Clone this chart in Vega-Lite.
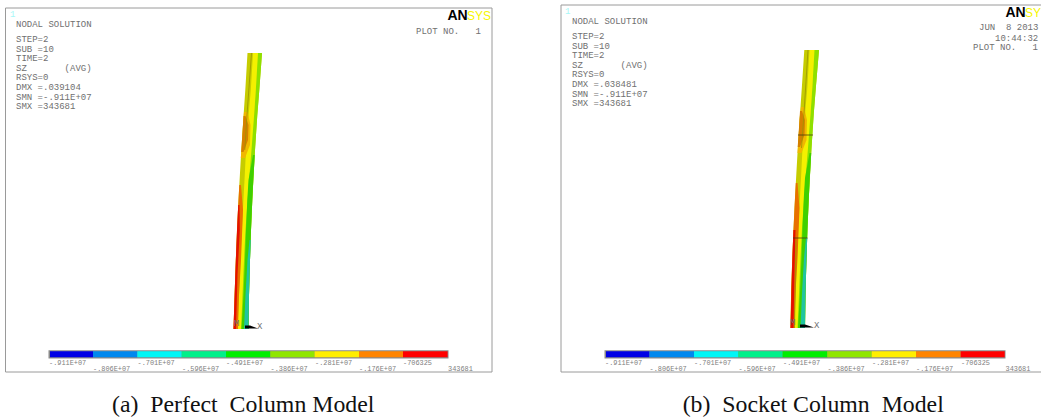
{"$schema":"https://vega.github.io/schema/vega-lite/v6.json","width":1041,"height":418,"autosize":"none","padding":0,"background":"white","config":{"view":{"stroke":null}},
"datasets":{
"frames":[{"p":"a","x0":5.5,"x1":492,"y0":8,"y1":372},{"p":"b","x0":561,"x1":1045,"y0":5,"y1":372}],
"barbacks":[{"p":"a","x0":48.5,"x1":448.5,"y0":350.3,"y1":358.5},{"p":"b","x0":604.5,"x1":1005.5,"y0":350.3,"y1":358.5}],
"bands":[
{"b":"1","x0":50,"x1":93,"y0":351.3,"y1":357.3},{"b":"2","x0":93,"x1":137.3,"y0":351.3,"y1":357.3},{"b":"3","x0":137.3,"x1":181.7,"y0":351.3,"y1":357.3},{"b":"4","x0":181.7,"x1":226,"y0":351.3,"y1":357.3},{"b":"5","x0":226,"x1":270.3,"y0":351.3,"y1":357.3},{"b":"6","x0":270.3,"x1":314.6,"y0":351.3,"y1":357.3},{"b":"7","x0":314.6,"x1":359,"y0":351.3,"y1":357.3},{"b":"8","x0":359,"x1":403,"y0":351.3,"y1":357.3},{"b":"9","x0":403,"x1":447.6,"y0":351.3,"y1":357.3},
{"b":"1","x0":606,"x1":649.5,"y0":351.3,"y1":357.3},{"b":"2","x0":649.5,"x1":694,"y0":351.3,"y1":357.3},{"b":"3","x0":694,"x1":738.3,"y0":351.3,"y1":357.3},{"b":"4","x0":738.3,"x1":782.6,"y0":351.3,"y1":357.3},{"b":"5","x0":782.6,"x1":827.3,"y0":351.3,"y1":357.3},{"b":"6","x0":827.3,"x1":871.7,"y0":351.3,"y1":357.3},{"b":"7","x0":871.7,"x1":916,"y0":351.3,"y1":357.3},{"b":"8","x0":916,"x1":960.7,"y0":351.3,"y1":357.3},{"b":"9","x0":960.7,"x1":1004.7,"y0":351.3,"y1":357.3}],
"patches":[
{"g":"a01","z":"olive","y":53,"l":247.5,"r":262},{"g":"a01","z":"olive","y":90,"l":245.3,"r":259.3},{"g":"a01","z":"olive","y":115,"l":243.6,"r":257.3},{"g":"a01","z":"olive","y":150,"l":241.3,"r":255},{"g":"a01","z":"olive","y":180,"l":239.6,"r":253.3},{"g":"a01","z":"olive","y":200,"l":238.5,"r":252.3},{"g":"a01","z":"olive","y":230,"l":237,"r":251},{"g":"a01","z":"olive","y":260,"l":235.8,"r":250},{"g":"a01","z":"olive","y":295,"l":234.6,"r":249},{"g":"a01","z":"olive","y":329,"l":233.5,"r":248.5},
{"g":"a02","z":"lime","y":53,"l":257.5,"r":262},{"g":"a02","z":"lime","y":90,"l":255.8,"r":259.3},{"g":"a02","z":"lime","y":115,"l":254.1,"r":257.3},{"g":"a02","z":"lime","y":150,"l":250,"r":255},{"g":"a02","z":"lime","y":200,"l":246,"r":252.3},{"g":"a02","z":"lime","y":230,"l":245,"r":251},{"g":"a02","z":"lime","y":260,"l":243.5,"r":250},{"g":"a02","z":"lime","y":295,"l":242,"r":249},{"g":"a02","z":"lime","y":329,"l":240.5,"r":248.5},
{"g":"a03","z":"yellow","y":53,"l":253,"r":258},{"g":"a03","z":"yellow","y":90,"l":250.8,"r":255.8},{"g":"a03","z":"yellow","y":115,"l":248.6,"r":254.1},{"g":"a03","z":"yellow","y":150,"l":246,"r":251.5},{"g":"a03","z":"yellow","y":180,"l":244.5,"r":249},{"g":"a03","z":"yellow","y":230,"l":241.8,"r":245.5},{"g":"a03","z":"yellow","y":260,"l":240.5,"r":244},{"g":"a03","z":"yellow","y":295,"l":239,"r":242.5},{"g":"a03","z":"yellow","y":329,"l":237.5,"r":241},
{"g":"a04","z":"amber","y":112,"l":244,"r":247.5},{"g":"a04","z":"amber","y":125,"l":243,"r":250.5},{"g":"a04","z":"amber","y":145,"l":242,"r":250},{"g":"a04","z":"amber","y":158,"l":240.8,"r":245},
{"g":"a05","z":"orange","y":116,"l":243.5,"r":245.5},{"g":"a05","z":"orange","y":125,"l":243,"r":248.5},{"g":"a05","z":"orange","y":140,"l":242,"r":248},{"g":"a05","z":"orange","y":152,"l":241.2,"r":243.5},
{"g":"a06","z":"green","y":155,"l":253,"r":254.7},{"g":"a06","z":"green","y":180,"l":248.5,"r":253.3},{"g":"a06","z":"green","y":200,"l":247.3,"r":252.3},{"g":"a06","z":"green","y":230,"l":246,"r":251},{"g":"a06","z":"green","y":260,"l":245,"r":250},{"g":"a06","z":"green","y":295,"l":243.5,"r":249},{"g":"a06","z":"green","y":329,"l":241.5,"r":248.5},
{"g":"a07","z":"teal","y":240,"l":249.5,"r":250.7},{"g":"a07","z":"teal","y":260,"l":247.5,"r":250},{"g":"a07","z":"teal","y":295,"l":245.5,"r":249},{"g":"a07","z":"teal","y":329,"l":244,"r":248.5},
{"g":"a08","z":"deep","y":185,"l":239.3,"r":241},{"g":"a08","z":"deep","y":210,"l":238,"r":243},{"g":"a08","z":"deep","y":260,"l":235.8,"r":241},{"g":"a08","z":"deep","y":295,"l":234.6,"r":239},{"g":"a08","z":"deep","y":329,"l":233.5,"r":238},
{"g":"a09","z":"red","y":205,"l":238.2,"r":239.5},{"g":"a09","z":"red","y":230,"l":237,"r":239.8},{"g":"a09","z":"red","y":275,"l":235.3,"r":237.5},{"g":"a09","z":"red","y":329,"l":233.5,"r":236},
{"g":"a10","z":"black","y":325.5,"l":245,"r":250},{"g":"a10","z":"black","y":328.5,"l":245,"r":258},
{"g":"b01","z":"olive","y":50,"l":804.3,"r":819},{"g":"b01","z":"olive","y":88,"l":801.8,"r":815.8},{"g":"b01","z":"olive","y":113,"l":800.1,"r":813.8},{"g":"b01","z":"olive","y":148,"l":797.8,"r":811.5},{"g":"b01","z":"olive","y":178,"l":796.1,"r":809.8},{"g":"b01","z":"olive","y":198,"l":795,"r":808.8},{"g":"b01","z":"olive","y":228,"l":793.5,"r":807.5},{"g":"b01","z":"olive","y":258,"l":792.3,"r":806.5},{"g":"b01","z":"olive","y":293,"l":791.1,"r":805.5},{"g":"b01","z":"olive","y":328,"l":790.5,"r":805},
{"g":"b02","z":"lime","y":50,"l":814,"r":819},{"g":"b02","z":"lime","y":88,"l":812.3,"r":815.8},{"g":"b02","z":"lime","y":113,"l":810.6,"r":813.8},{"g":"b02","z":"lime","y":148,"l":806.5,"r":811.5},{"g":"b02","z":"lime","y":198,"l":802.5,"r":808.8},{"g":"b02","z":"lime","y":228,"l":801.5,"r":807.5},{"g":"b02","z":"lime","y":258,"l":800,"r":806.5},{"g":"b02","z":"lime","y":293,"l":798.5,"r":805.5},{"g":"b02","z":"lime","y":328,"l":797,"r":805},
{"g":"b03","z":"yellow","y":50,"l":809.5,"r":814.5},{"g":"b03","z":"yellow","y":88,"l":807.3,"r":812.3},{"g":"b03","z":"yellow","y":113,"l":805.1,"r":810.6},{"g":"b03","z":"yellow","y":148,"l":802.5,"r":808},{"g":"b03","z":"yellow","y":178,"l":801,"r":805.5},{"g":"b03","z":"yellow","y":228,"l":798.3,"r":802},{"g":"b03","z":"yellow","y":258,"l":797,"r":800.5},{"g":"b03","z":"yellow","y":293,"l":795.5,"r":799},{"g":"b03","z":"yellow","y":328,"l":794,"r":797.5},
{"g":"b04","z":"amber","y":107,"l":801,"r":804},{"g":"b04","z":"amber","y":120,"l":799.5,"r":807},{"g":"b04","z":"amber","y":140,"l":798.5,"r":806.5},{"g":"b04","z":"amber","y":153,"l":797.5,"r":801.5},
{"g":"b05","z":"orange","y":111,"l":800,"r":802},{"g":"b05","z":"orange","y":120,"l":799.5,"r":805},{"g":"b05","z":"orange","y":135,"l":798.5,"r":804.5},{"g":"b05","z":"orange","y":147,"l":797.7,"r":800},
{"g":"b06","z":"green","y":153,"l":809.5,"r":811.2},{"g":"b06","z":"green","y":178,"l":805,"r":809.8},{"g":"b06","z":"green","y":198,"l":803.8,"r":808.8},{"g":"b06","z":"green","y":228,"l":802.5,"r":807.5},{"g":"b06","z":"green","y":258,"l":801.5,"r":806.5},{"g":"b06","z":"green","y":293,"l":800,"r":805.5},{"g":"b06","z":"green","y":328,"l":798,"r":805},
{"g":"b07","z":"teal","y":238,"l":806,"r":807.2},{"g":"b07","z":"teal","y":258,"l":804,"r":806.5},{"g":"b07","z":"teal","y":293,"l":802,"r":805.5},{"g":"b07","z":"teal","y":328,"l":800.5,"r":805},
{"g":"b08","z":"deep","y":183,"l":795.8,"r":797.5},{"g":"b08","z":"deep","y":208,"l":794.5,"r":799.5},{"g":"b08","z":"deep","y":258,"l":792.3,"r":797.5},{"g":"b08","z":"deep","y":293,"l":791.1,"r":795.5},{"g":"b08","z":"deep","y":328,"l":790.5,"r":794.5},
{"g":"b09","z":"red","y":230,"l":793.4,"r":795.5},{"g":"b09","z":"red","y":270,"l":792,"r":794.5},{"g":"b09","z":"red","y":328,"l":790.5,"r":793.5},
{"g":"b10","z":"black","y":324.5,"l":800,"r":805},{"g":"b10","z":"black","y":327.5,"l":800,"r":814}],
"darklines":[{"g":"a","x":251.5,"y":53},{"g":"a","x":247,"y":115},{"g":"a","x":244.8,"y":150},{"g":"b","x":808,"y":50},{"g":"b","x":804,"y":113},{"g":"b","x":801.5,"y":148},{"g":"c","x":796,"y":240},{"g":"c","x":794.5,"y":328}],
"cuts":[{"x":798,"x2":813,"y":135},{"x":793,"x2":807.5,"y":238}],
"labels":[
{"x":16,"y":24,"t":"NODAL SOLUTION"},{"x":16,"y":39,"t":"STEP=2"},{"x":16,"y":48.5,"t":"SUB =10"},{"x":16,"y":58,"t":"TIME=2"},{"x":16,"y":67.7,"t":"SZ\u00a0\u00a0\u00a0\u00a0\u00a0\u00a0\u00a0(AVG)"},{"x":16,"y":77,"t":"RSYS=0"},{"x":16,"y":87,"t":"DMX =.039104"},{"x":16,"y":96.5,"t":"SMN =-.911E+07"},{"x":16,"y":106,"t":"SMX =343681"},{"x":416,"y":31,"t":"PLOT NO.\u00a0\u00a0\u00a01"},
{"x":572,"y":21,"t":"NODAL SOLUTION"},{"x":572,"y":36,"t":"STEP=2"},{"x":572,"y":45.5,"t":"SUB =10"},{"x":572,"y":55,"t":"TIME=2"},{"x":572,"y":64.5,"t":"SZ\u00a0\u00a0\u00a0\u00a0\u00a0\u00a0\u00a0(AVG)"},{"x":572,"y":74,"t":"RSYS=0"},{"x":572,"y":84,"t":"DMX =.038481"},{"x":572,"y":93.5,"t":"SMN =-.911E+07"},{"x":572,"y":103,"t":"SMX =343681"},{"x":979,"y":27,"t":"JUN\u00a0\u00a08 2013"},{"x":995,"y":38,"t":"10:44:32"},{"x":973,"y":47,"t":"PLOT NO.\u00a0\u00a0\u00a01"},
{"x":257,"y":326,"t":"X"},{"x":814,"y":325,"t":"X"},{"x":234,"y":323,"t":"M"},{"x":790,"y":322,"t":"M"}],
"ticks":[
{"x":49,"y":362.5,"t":"-.911E+07"},{"x":93,"y":368.7,"t":"-.806E+07"},{"x":137.5,"y":362.5,"t":"-.701E+07"},{"x":182,"y":368.7,"t":"-.596E+07"},{"x":226,"y":362.5,"t":"-.491E+07"},{"x":270.5,"y":368.7,"t":"-.386E+07"},{"x":315,"y":362.5,"t":"-.281E+07"},{"x":359,"y":368.7,"t":"-.176E+07"},{"x":403,"y":362.5,"t":"-706325"},{"x":448,"y":368.7,"t":"343681"},
{"x":605,"y":362.5,"t":"-.911E+07"},{"x":649.5,"y":368.7,"t":"-.806E+07"},{"x":694,"y":362.5,"t":"-.701E+07"},{"x":738.5,"y":368.7,"t":"-.596E+07"},{"x":783,"y":362.5,"t":"-.491E+07"},{"x":827.5,"y":368.7,"t":"-.386E+07"},{"x":872,"y":362.5,"t":"-.281E+07"},{"x":916,"y":368.7,"t":"-.176E+07"},{"x":961,"y":362.5,"t":"-706325"},{"x":1005.5,"y":368.7,"t":"343681"}],
"captions":[{"x":112,"y":412,"t":"(a)\u00a0\u00a0Perfect\u00a0\u00a0Column Model"},{"x":682.7,"y":412,"t":"(b)\u00a0\u00a0Socket Column\u00a0\u00a0Model"}],
"logoAN":[{"x":447.5,"y":15.5,"t":"AN"},{"x":1005.5,"y":12.5,"t":"AN"}],
"logoSYS":[{"x":467,"y":15.5,"t":"SYS"},{"x":1025,"y":12.5,"t":"SY"}],
"ones":[{"x":10,"y":14,"t":"1"},{"x":565,"y":11,"t":"1"}]
},
"encoding":{
"x":{"field":"x","type":"quantitative","scale":{"domain":[0,1041],"nice":false,"zero":false},"axis":null},
"y":{"field":"y","type":"quantitative","scale":{"domain":[418,0],"nice":false,"zero":false},"axis":null}
},
"layer":[
{"data":{"name":"frames"},"mark":{"type":"rect","fill":null,"stroke":"#9a9a9a","strokeWidth":1,"clip":true},"encoding":{"x":{"field":"x0","type":"quantitative"},"x2":{"field":"x1"},"y":{"field":"y0","type":"quantitative"},"y2":{"field":"y1"}}},
{"data":{"name":"barbacks"},"mark":{"type":"rect","fill":"#8a8a8a"},"encoding":{"x":{"field":"x0","type":"quantitative"},"x2":{"field":"x1"},"y":{"field":"y0","type":"quantitative"},"y2":{"field":"y1"}}},
{"data":{"name":"bands"},"mark":{"type":"rect"},"encoding":{"x":{"field":"x0","type":"quantitative"},"x2":{"field":"x1"},"y":{"field":"y0","type":"quantitative"},"y2":{"field":"y1"},"color":{"field":"b","type":"nominal","legend":null,"scale":{"domain":["1","2","3","4","5","6","7","8","9"],"range":["#0000e6","#0088ee","#00f6f6","#00f08a","#00ee00","#8fe600","#ffee00","#ff8400","#ff0000"]}}}},
{"data":{"name":"patches"},"mark":{"type":"area","orient":"horizontal","interpolate":"linear"},"encoding":{"x":{"field":"l","type":"quantitative"},"x2":{"field":"r"},"y":{"field":"y","type":"quantitative"},"detail":{"field":"g"},"fill":{"field":"z","type":"nominal","legend":null,"scale":{"domain":["olive","lime","yellow","amber","orange","green","teal","deep","red","black"],"range":["#c6cc00","#8ee000","#f4f000","#f0b800","#d48000","#3fd000","#20c4a0","#e87000","#e41000","#000000"]}}}},
{"data":{"name":"darklines"},"mark":{"type":"line","stroke":"#9a9400","strokeWidth":0.8},"encoding":{"detail":{"field":"g"},"order":{"field":"y"}}},
{"data":{"name":"cuts"},"mark":{"type":"rule","stroke":"#4a3a10","strokeWidth":0.8},"encoding":{"x2":{"field":"x2"}}},
{"data":{"name":"labels"},"mark":{"type":"text","font":"Liberation Mono","fontSize":9,"align":"left","baseline":"middle","fill":"#707070"},"encoding":{"text":{"field":"t"}}},
{"data":{"name":"ticks"},"mark":{"type":"text","font":"Liberation Mono","fontSize":6.9,"align":"left","baseline":"middle","fill":"#808080"},"encoding":{"text":{"field":"t"}}},
{"data":{"name":"captions"},"mark":{"type":"text","font":"Liberation Serif","fontSize":23.8,"align":"left","baseline":"alphabetic","fill":"#111111"},"encoding":{"text":{"field":"t"}}},
{"data":{"name":"logoAN"},"mark":{"type":"text","font":"Liberation Sans","fontWeight":"bold","fontSize":14,"align":"left","baseline":"middle","fill":"#000000"},"encoding":{"text":{"field":"t"}}},
{"data":{"name":"logoSYS"},"mark":{"type":"text","font":"Liberation Sans","fontSize":12,"align":"left","baseline":"middle","fill":"#f6f600"},"encoding":{"text":{"field":"t"}}},
{"data":{"name":"ones"},"mark":{"type":"text","font":"Liberation Mono","fontSize":9,"align":"left","baseline":"middle","fill":"#a8f8f8"},"encoding":{"text":{"field":"t"}}}
]}
